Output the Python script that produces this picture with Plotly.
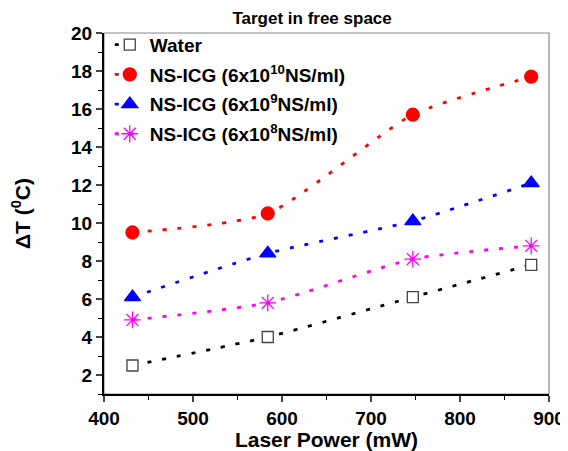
import plotly.graph_objects as go

power = [432, 584, 747, 880]
water = [2.5, 4.0, 6.1, 7.8]
ns10 = [9.5, 10.5, 15.7, 17.7]
ns9 = [6.1, 8.4, 10.1, 12.1]
ns8 = [4.9, 5.8, 8.1, 8.8]

names = ["Water", "NS-ICG (6x10<sup>10</sup>NS/ml)", "NS-ICG (6x10<sup>9</sup>NS/ml)", "NS-ICG (6x10<sup>8</sup>NS/ml)"]
series = [water, ns10, ns9, ns8]
colors = ["black", "red", "blue", "magenta"]
symbols = ["square", "circle", "triangle-up", "asterisk-open"]
fills = ["white", "red", "blue", "magenta"]
mcolors = ["#444444", "red", "blue", "magenta"]
msizes = [11, 13, 14, 14]

fig = go.Figure()
for i, (n, s, c, sym, fc, mc, ms) in enumerate(zip(names, series, colors, symbols, fills, mcolors, msizes)):
    fig.add_trace(go.Scatter(
        x=power, y=s, name=n, mode="lines+markers", legendgroup=f"g{i}",
        line=dict(color=c, dash="4px,11px", width=2.8, shape="spline", smoothing=0.6),
        marker=dict(symbol=sym, size=ms, color=fc, line=dict(color=mc, width=1.3)),
    ))

font = "Arial, Liberation Sans, sans-serif"
fig.update_layout(
    width=560, height=443,
    margin=dict(l=96, r=19, t=25, b=57),
    paper_bgcolor="white", plot_bgcolor="white",
    font=dict(family=font, color="black"),
    title=dict(text="<b>Target in free space</b>", x=0.543, xanchor="center", y=0.99, yanchor="top",
               font=dict(size=17, family=font)),
    showlegend=True,
    legend=dict(x=0.013, y=1.02, xanchor="left", yanchor="top", bgcolor="rgba(0,0,0,0)",
                font=dict(size=19, family=font, weight="bold"), tracegroupgap=2, itemwidth=30),
    xaxis=dict(range=[400, 900], dtick=100, tick0=400, showgrid=False, zeroline=False, automargin=False,
               showline=True, linecolor="black", linewidth=2, ticks="outside", ticklen=6, tickwidth=1.5,
               tickfont=dict(size=19, family=font, weight="bold"),
               minor=dict(dtick=50, ticks="outside", ticklen=4, tickwidth=1.2, tickcolor="black"),
               title=dict(text="<b>Laser Power (mW)</b>", font=dict(size=21, family=font), standoff=1)),
    yaxis=dict(range=[1, 20], tickvals=list(range(2, 21, 2)), showgrid=False, zeroline=False, automargin=False,
               showline=True, linecolor="black", linewidth=2, ticks="outside", ticklen=6, tickwidth=1.5,
               tickfont=dict(size=19, family=font, weight="bold"),
               minor=dict(tickvals=list(range(1, 21, 2)), ticks="outside", ticklen=4, tickwidth=1.2, tickcolor="black"),
               title=dict(text="<b>ΔT (<sup>0</sup>C)</b>", font=dict(size=21, family=font), standoff=36)),
)
fig.add_shape(type="rect", xref="paper", yref="paper", x0=0, y0=0, x1=1, y1=1,
              line=dict(color="#888888", width=1.2), layer="below")
fig.write_html("out.html")
